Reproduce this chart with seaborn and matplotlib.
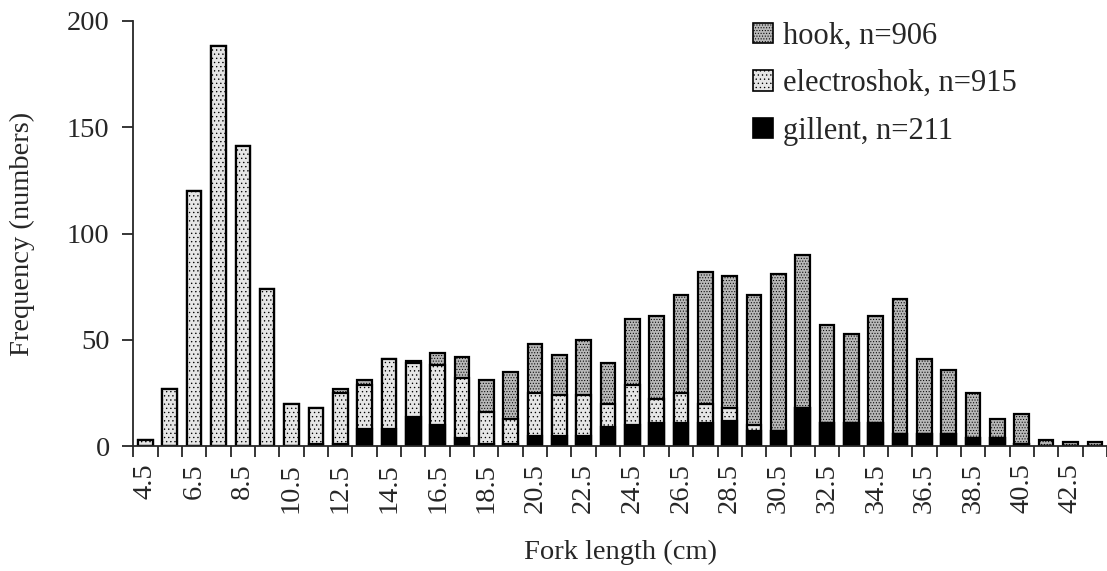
import numpy as np
import pandas as pd
import seaborn as sns
import matplotlib.pyplot as plt
from matplotlib.patches import Patch

sns.set_style("ticks")
plt.rcParams["font.family"] = ["Liberation Serif", "DejaVu Serif"]
plt.rcParams["hatch.linewidth"] = 0.45

# fork length classes (cm)
lengths = [4.5 + i for i in range(40)]

gillent = [0, 0, 0, 0, 0, 0, 0, 1, 1, 8, 8, 14, 10, 4, 1, 1, 5, 5, 5, 9,
           10, 11, 11, 11, 12, 7, 7, 18, 11, 11, 11, 6, 6, 6, 4, 4, 1, 0, 0, 0]
electroshok = [3, 27, 120, 188, 141, 74, 20, 17, 24, 21, 33, 25, 28, 28, 15, 12, 20, 19, 19, 11,
               19, 11, 14, 9, 6, 3, 0, 0, 0, 0, 0, 0, 0, 0, 0, 0, 0, 0, 0, 0]
hook = [0, 0, 0, 0, 0, 0, 0, 0, 2, 2, 0, 1, 6, 10, 15, 22, 23, 19, 26, 19,
        31, 39, 46, 62, 62, 61, 74, 72, 46, 42, 50, 63, 35, 30, 21, 9, 14, 3, 2, 2]

labels = ["hook, n=906", "electroshok, n=915", "gillent, n=211"]

df = pd.DataFrame({"length": [f"{v:.1f}" for v in lengths],
                   "gillent": gillent, "electroshok": electroshok, "hook": hook})
df["lower2"] = df["gillent"] + df["electroshok"]
df["total"] = df["lower2"] + df["hook"]

fig = plt.figure(figsize=(11.07, 5.71), dpi=100)
ax = fig.add_axes([0.1204, 0.2184, 0.8796, 0.7453])

styles = [("total", "#b8b8b8", "......"), ("lower2", "#e6e6e6", "...."), ("gillent", "black", None)]
for col, fc, hatch in styles:
    sns.barplot(data=df, x="length", y=col, color=fc, saturation=1, width=0.6,
                edgecolor="black", linewidth=1.6, hatch=hatch, ax=ax)

ax.set_ylim(0, 200)
ax.set_xlim(-0.5, 39.5)
ax.set_yticks([0, 50, 100, 150, 200])
ax.tick_params(axis="y", labelsize=20.5, length=8, width=1.3, direction="out", pad=9)

# tick marks at the class boundaries, labels at every second class
ax.set_xticks(np.arange(-0.5, 39.6, 1.0))
ax.set_xticklabels([])
ax.set_xticks(np.arange(0, 39, 2), minor=True)
ax.set_xticklabels(df["length"][::2], minor=True, rotation=90)
ax.tick_params(axis="x", which="major", length=8, width=1.3, direction="out")
ax.tick_params(axis="x", which="minor", length=0, labelsize=20.5, pad=12)

sns.despine(ax=ax)
for s in ["left", "bottom"]:
    ax.spines[s].set_linewidth(1.3)

ax.set_xlabel("Fork length (cm)", fontsize=20.5)
ax.xaxis.set_label_coords(0.5, -0.22)
ax.set_ylabel("Frequency (numbers)", fontsize=20.5, labelpad=23)

handles = [Patch(facecolor="#b8b8b8", edgecolor="black", hatch="......", linewidth=1.2),
           Patch(facecolor="#e6e6e6", edgecolor="black", hatch="....", linewidth=1.2),
           Patch(facecolor="black", edgecolor="black", linewidth=1.2)]
ax.legend(handles, labels, loc="upper left", bbox_to_anchor=(0.624, 1.026), frameon=False,
          fontsize=22, handlelength=0.65, handleheight=0.65, handletextpad=0.33, labelspacing=0.6,
          borderaxespad=0)

fig.savefig("out.png", dpi=100)
